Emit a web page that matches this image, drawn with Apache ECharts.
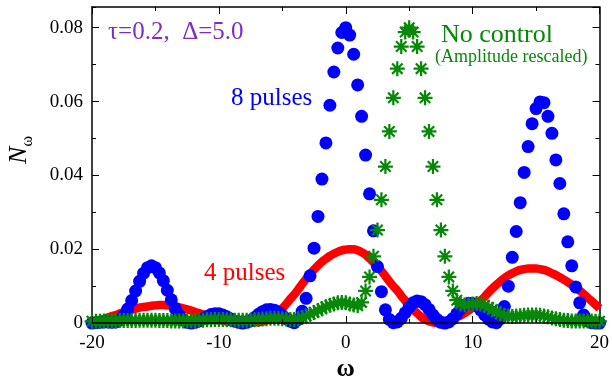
<!DOCTYPE html>
<html lang="en">
  <head>
    <meta charset="UTF-8" />
    <title>N_omega spectrum</title>
    <script src="https://cdn.jsdelivr.net/npm/echarts@6/dist/echarts.min.js"></script>
    <style>
      html, body { margin: 0; padding: 0; background: #fff; }
    </style>
  </head>
  <body>
    <div id="main" style="width: 612px; height: 387px"></div>
    <script>
      // frequency grid (omega)
      var omega = [
        -20, -19.6875, -19.375, -19.0625, -18.75, -18.4375, -18.125, -17.8125,
        -17.5, -17.1875, -16.875, -16.5625, -16.25, -15.9375, -15.625, -15.3125,
        -15, -14.6875, -14.375, -14.0625, -13.75, -13.4375, -13.125, -12.8125,
        -12.5, -12.1875, -11.875, -11.5625, -11.25, -10.9375, -10.625, -10.3125,
        -10, -9.6875, -9.375, -9.0625, -8.75, -8.4375, -8.125, -7.8125,
        -7.5, -7.1875, -6.875, -6.5625, -6.25, -5.9375, -5.625, -5.3125,
        -5, -4.6875, -4.375, -4.0625, -3.75, -3.4375, -3.125, -2.8125,
        -2.5, -2.1875, -1.875, -1.5625, -1.25, -0.9375, -0.625, -0.3125,
        0, 0.3125, 0.625, 0.9375, 1.25, 1.5625, 1.875, 2.1875,
        2.5, 2.8125, 3.125, 3.4375, 3.75, 4.0625, 4.375, 4.6875,
        5, 5.3125, 5.625, 5.9375, 6.25, 6.5625, 6.875, 7.1875,
        7.5, 7.8125, 8.125, 8.4375, 8.75, 9.0625, 9.375, 9.6875,
        10, 10.3125, 10.625, 10.9375, 11.25, 11.5625, 11.875, 12.1875,
        12.5, 12.8125, 13.125, 13.4375, 13.75, 14.0625, 14.375, 14.6875,
        15, 15.3125, 15.625, 15.9375, 16.25, 16.5625, 16.875, 17.1875,
        17.5, 17.8125, 18.125, 18.4375, 18.75, 19.0625, 19.375, 19.6875,
        20
      ];

      // 8 pulses (blue dots)
      var pulses8 = [
        0.0000, 0.0001, 0.0002, 0.0003, 0.0003, 0.0002, 0.0003, 0.0008,
        0.0020, 0.0038, 0.0061, 0.0087, 0.0113, 0.0135, 0.0150, 0.0155,
        0.0150, 0.0136, 0.0115, 0.0089, 0.0063, 0.0039, 0.0021, 0.0008,
        0.0002, 0.0000, 0.0002, 0.0006, 0.0012, 0.0018, 0.0023, 0.0025,
        0.0025, 0.0022, 0.0017, 0.0011, 0.0005, 0.0002, 0.0000, 0.0002,
        0.0007, 0.0015, 0.0024, 0.0031, 0.0036, 0.0037, 0.0035, 0.0029,
        0.0021, 0.0012, 0.0005, 0.0001, 0.0010, 0.0032, 0.0067, 0.0128,
        0.0203, 0.0289, 0.0390, 0.0488, 0.0590, 0.0680, 0.0745, 0.0787,
        0.0800, 0.0780, 0.0728, 0.0645, 0.0560, 0.0455, 0.0350, 0.0250,
        0.0153, 0.0085, 0.0036, 0.0010, 0.0001, 0.0003, 0.0013, 0.0028,
        0.0043, 0.0055, 0.0060, 0.0058, 0.0050, 0.0037, 0.0022, 0.0010,
        0.0002, 0.0000, 0.0003, 0.0012, 0.0025, 0.0039, 0.0049, 0.0054,
        0.0053, 0.0047, 0.0036, 0.0023, 0.0011, 0.0003, 0.0001, 0.0012,
        0.0045, 0.0100, 0.0178, 0.0248, 0.0326, 0.0408, 0.0478, 0.0540,
        0.0581, 0.0599, 0.0597, 0.0560, 0.0514, 0.0442, 0.0378, 0.0296,
        0.0220, 0.0155, 0.0098, 0.0055, 0.0022, 0.0006, 0.0001, 0.0000,
        0.0000
      ];

      // 4 pulses (red)
      var pulses4 = [
        0.0003, 0.0005, 0.0008, 0.0011, 0.0015, 0.0019, 0.0022, 0.0026,
        0.0030, 0.0033, 0.0036, 0.0039, 0.0042, 0.0044, 0.0045, 0.0047,
        0.0048, 0.0049, 0.0049, 0.0048, 0.0047, 0.0046, 0.0043, 0.0040,
        0.0037, 0.0034, 0.0030, 0.0027, 0.0023, 0.0019, 0.0016, 0.0012,
        0.0009, 0.0006, 0.0004, 0.0002, 0.0001, 0.0001, 0.0000, 0.0000,
        0.0001, 0.0002, 0.0003, 0.0004, 0.0007, 0.0012, 0.0020, 0.0030,
        0.0040, 0.0052, 0.0065, 0.0077, 0.0091, 0.0106, 0.0120, 0.0133,
        0.0145, 0.0156, 0.0166, 0.0174, 0.0182, 0.0188, 0.0193, 0.0197,
        0.0199, 0.0200, 0.0200, 0.0197, 0.0192, 0.0185, 0.0175, 0.0165,
        0.0154, 0.0141, 0.0127, 0.0113, 0.0100, 0.0088, 0.0074, 0.0061,
        0.0047, 0.0036, 0.0027, 0.0017, 0.0010, 0.0005, 0.0002, 0.0000,
        0.0002, 0.0004, 0.0007, 0.0011, 0.0016, 0.0021, 0.0027, 0.0034,
        0.0042, 0.0051, 0.0061, 0.0071, 0.0083, 0.0094, 0.0104, 0.0113,
        0.0122, 0.0129, 0.0135, 0.0140, 0.0144, 0.0146, 0.0148, 0.0148,
        0.0148, 0.0146, 0.0144, 0.0140, 0.0135, 0.0130, 0.0124, 0.0118,
        0.0111, 0.0104, 0.0096, 0.0088, 0.0079, 0.0069, 0.0060, 0.0050,
        0.0040
      ];

      // no control, amplitude rescaled (green stars)
      var noControl = [
        0.0005, 0.0005, 0.0005, 0.0006, 0.0006, 0.0006, 0.0006, 0.0007,
        0.0007, 0.0007, 0.0007, 0.0007, 0.0008, 0.0008, 0.0008, 0.0008,
        0.0008, 0.0007, 0.0007, 0.0007, 0.0006, 0.0006, 0.0006, 0.0006,
        0.0006, 0.0007, 0.0007, 0.0008, 0.0008, 0.0009, 0.0009, 0.0010,
        0.0010, 0.0010, 0.0009, 0.0009, 0.0008, 0.0008, 0.0008, 0.0008,
        0.0008, 0.0009, 0.0010, 0.0011, 0.0012, 0.0013, 0.0013, 0.0013,
        0.0012, 0.0011, 0.0010, 0.0010, 0.0012, 0.0015, 0.0019, 0.0024,
        0.0029, 0.0034, 0.0039, 0.0044, 0.0048, 0.0052, 0.0055, 0.0056,
        0.0055, 0.0052, 0.0049, 0.0047, 0.0056, 0.0087, 0.0125, 0.0181,
        0.0252, 0.0334, 0.0424, 0.0519, 0.0610, 0.0689, 0.0749, 0.0788,
        0.0800, 0.0788, 0.0749, 0.0689, 0.0610, 0.0519, 0.0424, 0.0334,
        0.0252, 0.0181, 0.0125, 0.0087, 0.0062, 0.0052, 0.0049, 0.0050,
        0.0052, 0.0053, 0.0052, 0.0048, 0.0043, 0.0037, 0.0030, 0.0025,
        0.0021, 0.0019, 0.0018, 0.0019, 0.0020, 0.0021, 0.0022, 0.0022,
        0.0022, 0.0021, 0.0019, 0.0017, 0.0014, 0.0012, 0.0010, 0.0008,
        0.0007, 0.0006, 0.0006, 0.0006, 0.0006, 0.0006, 0.0006, 0.0005,
        0.0005
      ];

      var yMax = 0.0856;
      var serif = 'Liberation Serif';
      var green = '#088808';

      // asterisk made of four bars
      var starPath =
        'path://M-1.5 -10L1.5 -10L1.5 10L-1.5 10Z' +
        'M-10 -1.5L10 -1.5L10 1.5L-10 1.5Z' +
        'M-5.9 -8L8 5.9L5.9 8L-8 -5.9Z' +
        'M-8 5.9L5.9 -8L8 -5.9L-5.9 8Z';

      function zip(ys) {
        var out = [];
        for (var i = 0; i < omega.length; i++) {
          out.push([omega[i], ys[i]]);
        }
        return out;
      }

      function xAxisOf(pos) {
        return {
          type: 'value',
          position: pos,
          min: -20,
          max: 20,
          interval: 10,
          z: 5,
          axisLine: { show: true, onZero: false, lineStyle: { color: '#000', width: 1.5 } },
          axisTick: { inside: true, length: 7, lineStyle: { color: '#000' } },
          minorTick: { show: true, splitNumber: 2, length: 4, lineStyle: { color: '#000' } },
          axisLabel: {
            show: pos === 'bottom',
            fontFamily: serif,
            fontSize: 19,
            color: '#000',
            margin: 10,
          },
          splitLine: { show: false },
        };
      }

      function yAxisOf(pos, step, tickLen, labels) {
        return {
          type: 'value',
          position: pos,
          min: 0,
          max: yMax,
          interval: step,
          axisLine: { show: labels, onZero: false, lineStyle: { color: '#000', width: 1.5 } },
          axisTick: { inside: true, length: tickLen, lineStyle: { color: '#000' } },
          axisLabel: {
            show: labels && pos === 'left',
            showMaxLabel: false,
            fontFamily: serif,
            fontSize: 19,
            color: '#000',
            margin: 9,
          },
          splitLine: { show: false },
        };
      }

      var chart = echarts.init(document.getElementById('main'));

      var xBottom = xAxisOf('bottom');
      xBottom.name = 'ω';
      xBottom.nameLocation = 'middle';
      xBottom.nameGap = 30;
      xBottom.nameTextStyle = { fontFamily: serif, fontSize: 25, fontWeight: 'bold', color: '#000' };

      var option = {
        animation: false,
        backgroundColor: '#fff',
        grid: { left: 92, right: 9, top: 7, bottom: 57 },
        xAxis: [xBottom, xAxisOf('top')],
        yAxis: [
          yAxisOf('left', 0.02, 7, true),
          yAxisOf('left', 0.01, 4, false),
          yAxisOf('right', 0.02, 7, true),
          yAxisOf('right', 0.01, 4, false),
        ],
        series: [
          {
            name: '4 pulses',
            type: 'line',
            data: zip(pulses4),
            showSymbol: false,
            smooth: true,
            clip: false,
            lineStyle: { color: '#ff0000', width: 8.5 },
            z: 2,
          },
          {
            name: '8 pulses',
            type: 'scatter',
            data: zip(pulses8),
            symbol: 'circle',
            symbolSize: 13,
            clip: false,
            itemStyle: { color: '#0000ff', opacity: 1 },
            z: 3,
          },
          {
            name: 'No control',
            type: 'scatter',
            data: zip(noControl),
            symbol: starPath,
            symbolSize: 15,
            clip: false,
            itemStyle: { color: green, opacity: 1 },
            z: 4,
          },
        ],
        graphic: [
          {
            type: 'text',
            x: 108,
            y: 32,
            style: {
              text: 'τ=0.2,  Δ=5.0',
              fontFamily: serif,
              fontSize: 25,
              fill: '#7d2fc3',
              align: 'left',
              verticalAlign: 'middle',
            },
          },
          {
            type: 'text',
            x: 231,
            y: 98,
            style: {
              text: '8 pulses',
              fontFamily: serif,
              fontSize: 25,
              fill: '#0000ff',
              align: 'left',
              verticalAlign: 'middle',
            },
          },
          {
            type: 'text',
            x: 204,
            y: 273,
            style: {
              text: '4 pulses',
              fontFamily: serif,
              fontSize: 25,
              fill: '#ff0000',
              align: 'left',
              verticalAlign: 'middle',
            },
          },
          {
            type: 'text',
            x: 441,
            y: 35,
            style: {
              text: 'No control',
              fontFamily: serif,
              fontSize: 26,
              fill: green,
              align: 'left',
              verticalAlign: 'middle',
            },
          },
          {
            type: 'text',
            x: 435,
            y: 57,
            style: {
              text: '(Amplitude rescaled)',
              fontFamily: serif,
              fontSize: 18,
              fill: green,
              align: 'left',
              verticalAlign: 'middle',
            },
          },
          {
            // y axis title N with subscript omega
            type: 'text',
            x: 19,
            y: 150,
            rotation: Math.PI / 2,
            style: {
              text: '{n|N}{w|ω}',
              align: 'center',
              verticalAlign: 'middle',
              rich: {
                n: { fontFamily: serif, fontSize: 26, fontStyle: 'italic', lineHeight: 34, fill: '#000' },
                w: { fontFamily: serif, fontSize: 16, lineHeight: 16, verticalAlign: 'bottom', fill: '#000' },
              },
            },
          },
        ],
      };

      chart.setOption(option);
    </script>
  </body>
</html>
